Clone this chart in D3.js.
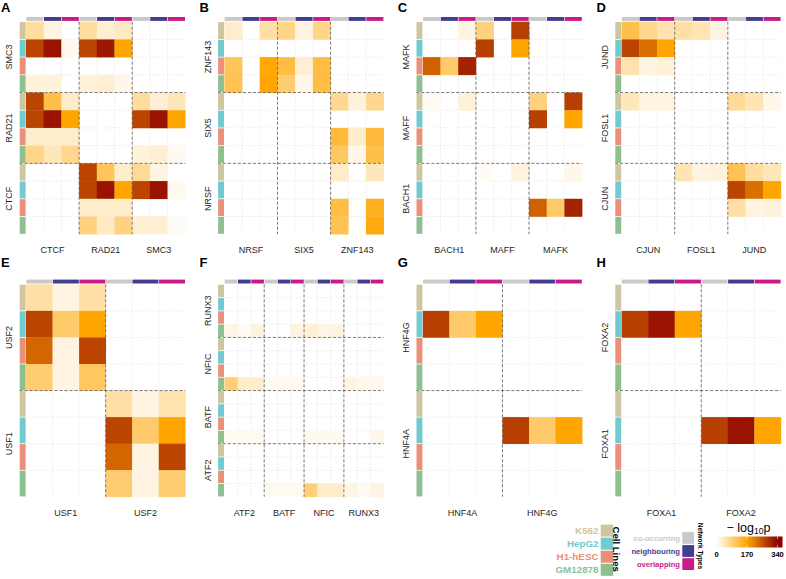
<!DOCTYPE html>
<html><head><meta charset="utf-8">
<script src="https://cdn.jsdelivr.net/npm/d3@7"></script>
<style>body{margin:0;background:#fff} svg{display:block;font-family:"Liberation Sans",Arial,Helvetica,sans-serif}</style>
</head><body>
<svg id="c" width="786" height="579"></svg>
<script>
// ---------- categories ----------
const cellLines = ["K562","HepG2","H1-hESC","GM12878"];
const cellLineColors = ["#cdc6a0","#70cacf","#e98f7a","#8dbf91"];
const networkTypes = ["co-occurring","neighbouring","overlapping"];
const networkColors = ["#c9c9c9","#433d90","#c81a88"];
const colorStops = [0,170,340];
const colorRange = ["#ffffff","#ffa500","#8b0000"];
const legendTicks = [0,170,340];

// ---------- panel data (rows: y-TF x cell line; cols: x-TF x network type) ----------
const xTFsA = ["CTCF","RAD21","SMC3"];
const yTFsA = ["SMC3","RAD21","CTCF"];
const valuesA = [
 [65,20,0, 65,30,40, 0,0,0],
 [270,320,10, 270,315,170, 0,0,0],
 [0,0,0, 0,0,0, 0,0,0],
 [25,25,0, 25,30,15, 0,0,0],
 [270,120,35, 0,0,0, 65,30,45],
 [270,320,170, 0,0,0, 270,320,170],
 [35,35,35, 0,0,0, 0,0,0],
 [80,45,75, 0,0,0, 25,30,10],
 [0,0,0, 270,110,35, 70,20,0],
 [0,0,0, 270,320,170, 270,320,10],
 [0,0,0, 35,35,35, 0,0,0],
 [0,0,0, 85,40,85, 30,30,5]
];
const xTFsB = ["NRSF","SIX5","ZNF143"];
const yTFsB = ["ZNF143","SIX5","NRSF"];
const valuesB = [
 [35,0,60, 80,20,80, 0,0,0],
 [0,0,0, 0,0,0, 0,0,0],
 [110,0,165, 125,30,125, 0,0,0],
 [115,0,170, 95,15,125, 0,0,0],
 [0,0,0, 0,0,0, 75,25,75],
 [0,0,0, 0,0,0, 0,0,0],
 [0,0,0, 0,0,0, 130,35,130],
 [0,0,0, 0,0,0, 105,15,120],
 [0,0,0, 0,0,0, 35,0,45],
 [0,0,0, 0,0,0, 0,0,0],
 [0,0,0, 0,0,0, 125,0,150],
 [0,0,0, 0,0,0, 115,0,160]
];
const xTFsC = ["BACH1","MAFF","MAFK"];
const yTFsC = ["MAFK","MAFF","BACH1"];
const valuesC = [
 [0,0,20, 85,0,275, 0,0,0],
 [0,0,0, 275,0,170, 0,0,0],
 [240,100,305, 0,0,0, 0,0,0],
 [0,0,0, 0,0,0, 0,0,0],
 [8,0,25, 0,0,0, 85,0,275],
 [0,0,0, 0,0,0, 275,0,170],
 [0,0,0, 0,0,0, 0,0,0],
 [0,0,0, 0,0,0, 0,0,0],
 [0,0,0, 6,0,22, 0,0,15],
 [0,0,0, 0,0,0, 0,0,0],
 [0,0,0, 0,0,0, 240,100,305],
 [0,0,0, 0,0,0, 0,0,0]
];
const xTFsD = ["CJUN","FOSL1","JUND"];
const yTFsD = ["JUND","FOSL1","CJUN"];
const valuesD = [
 [120,75,55, 60,50,20, 0,0,0],
 [270,225,170, 0,0,0, 0,0,0],
 [55,20,25, 0,0,0, 0,0,0],
 [0,0,0, 0,0,0, 0,0,0],
 [45,20,20, 0,0,0, 70,50,15],
 [0,0,0, 0,0,0, 0,0,0],
 [0,0,0, 0,0,0, 0,0,0],
 [0,0,0, 0,0,0, 0,0,0],
 [0,0,0, 50,20,25, 115,65,45],
 [0,0,0, 0,0,0, 270,225,170],
 [0,0,0, 0,0,0, 60,20,25],
 [0,0,0, 0,0,0, 0,0,0]
];
const xTFsE = ["USF1","USF2"];
const yTFsE = ["USF2","USF1"];
const valuesE = [
 [60,20,60, 0,0,0],
 [270,100,170, 0,0,0],
 [235,20,270, 0,0,0],
 [95,20,105, 0,0,0],
 [0,0,0, 60,20,55],
 [0,0,0, 270,100,170],
 [0,0,0, 235,20,270],
 [0,0,0, 95,20,95]
];
const xTFsF = ["ATF2","BATF","NFIC","RUNX3"];
const yTFsF = ["RUNX3","NFIC","BATF","ATF2"];
const valuesF = [
 [0,0,0, 0,0,0, 0,0,0, 0,0,0],
 [0,0,0, 0,0,0, 0,0,0, 0,0,0],
 [0,0,0, 0,0,0, 0,0,0, 0,0,0],
 [18,8,22, 0,0,20, 28,18,20, 0,0,0],
 [0,0,0, 0,0,0, 0,0,0, 0,0,0],
 [0,0,0, 0,0,0, 0,0,0, 0,0,0],
 [0,0,0, 0,0,0, 0,0,0, 0,0,0],
 [90,35,35, 10,8,10, 0,0,0, 20,12,12],
 [0,0,0, 0,0,0, 0,0,0, 0,0,0],
 [0,0,0, 0,0,0, 0,0,0, 0,0,0],
 [0,0,0, 0,0,0, 0,0,0, 0,0,0],
 [8,8,10, 0,0,0, 10,10,10, 0,0,15],
 [0,0,0, 0,0,0, 0,0,0, 0,0,0],
 [0,0,0, 0,0,0, 0,0,0, 0,0,0],
 [0,0,0, 0,0,0, 0,0,0, 0,0,0],
 [0,0,0, 10,8,10, 90,35,35, 18,8,20]
];
const xTFsG = ["HNF4A","HNF4G"];
const yTFsG = ["HNF4G","HNF4A"];
const valuesG = [
 [0,0,0, 0,0,0],
 [275,100,170, 0,0,0],
 [0,0,0, 0,0,0],
 [0,0,0, 0,0,0],
 [0,0,0, 0,0,0],
 [0,0,0, 275,100,170],
 [0,0,0, 0,0,0],
 [0,0,0, 0,0,0]
];
const xTFsH = ["FOXA1","FOXA2"];
const yTFsH = ["FOXA2","FOXA1"];
const valuesH = [
 [0,0,0, 0,0,0],
 [275,320,170, 0,0,0],
 [0,0,0, 0,0,0],
 [0,0,0, 0,0,0],
 [0,0,0, 0,0,0],
 [0,0,0, 275,320,170],
 [0,0,0, 0,0,0],
 [0,0,0, 0,0,0]
];

// ---------- drawing ----------
const svg = d3.select("#c");
const color = d3.scaleLinear().domain(colorStops).range(colorRange).clamp(true);
const panels = [
 {letter:"A", xt:xTFsA, yt:yTFsA, v:valuesA},
 {letter:"B", xt:xTFsB, yt:yTFsB, v:valuesB},
 {letter:"C", xt:xTFsC, yt:yTFsC, v:valuesC},
 {letter:"D", xt:xTFsD, yt:yTFsD, v:valuesD},
 {letter:"E", xt:xTFsE, yt:yTFsE, v:valuesE},
 {letter:"F", xt:xTFsF, yt:yTFsF, v:valuesF},
 {letter:"G", xt:xTFsG, yt:yTFsG, v:valuesG},
 {letter:"H", xt:xTFsH, yt:yTFsH, v:valuesH}
];
const colX = [26, 224.4, 422.8, 621.6];
const rowY = [21.7, 284.3];
const letterY = [11.8, 267.4];
const W = 159.3, H = 212.5;

panels.forEach((p, i) => {
  const x0 = colX[i % 4], y0 = rowY[Math.floor(i / 4)];
  const nx = p.xt.length * 3, ny = p.yt.length * 4;
  const xs = d3.scaleBand().domain(d3.range(nx)).range([x0, x0 + W]);
  const ys = d3.scaleBand().domain(d3.range(ny)).range([y0, y0 + H]);
  const bw = xs.bandwidth(), bh = ys.bandwidth();
  const g = svg.append("g");

  // light grid
  g.selectAll(".gv").data(d3.range(1, nx)).join("line")
    .attr("x1", d => xs(d)).attr("x2", d => xs(d)).attr("y1", y0).attr("y2", y0 + H)
    .attr("stroke", "#cfcfcf").attr("stroke-width", 0.6).attr("stroke-dasharray", "1,2");
  g.selectAll(".gh").data(d3.range(1, ny)).join("line")
    .attr("y1", d => ys(d)).attr("y2", d => ys(d)).attr("x1", x0).attr("x2", x0 + W)
    .attr("stroke", "#cfcfcf").attr("stroke-width", 0.6).attr("stroke-dasharray", "1,2");

  // tiles
  const cells = [];
  p.v.forEach((row, r) => row.forEach((val, c) => { if (val > 0) cells.push({r, c, val}); }));
  g.selectAll(".t").data(cells).join("rect")
    .attr("x", d => xs(d.c)).attr("y", d => ys(d.r))
    .attr("width", bw + 0.3).attr("height", bh + 0.3)
    .attr("fill", d => color(d.val));

  // block separators
  g.selectAll(".bv").data(d3.range(1, p.xt.length)).join("line")
    .attr("x1", d => xs(d * 3)).attr("x2", d => xs(d * 3)).attr("y1", y0).attr("y2", y0 + H)
    .attr("stroke", "#5a5a5a").attr("stroke-width", 0.8).attr("stroke-dasharray", "3,2");
  g.selectAll(".bh").data(d3.range(1, p.yt.length)).join("line")
    .attr("y1", d => ys(d * 4)).attr("y2", d => ys(d * 4)).attr("x1", x0 - 6.5).attr("x2", x0 + W)
    .attr("stroke", "#5a5a5a").attr("stroke-width", 0.8).attr("stroke-dasharray", "3,2");

  // network-type bar on top
  g.selectAll(".nb").data(d3.range(nx)).join("rect")
    .attr("x", d => xs(d) + 0.3).attr("width", bw - 0.6)
    .attr("y", y0 - 4.7).attr("height", 3.9)
    .attr("fill", d => networkColors[d % 3]);
  // cell-line strip on left
  g.selectAll(".cb").data(d3.range(ny)).join("rect")
    .attr("x", x0 - 6.3).attr("width", 5.9)
    .attr("y", d => ys(d) + 0.4).attr("height", bh - 0.8)
    .attr("fill", d => cellLineColors[d % 4]);

  // axis labels
  g.selectAll(".xl").data(p.xt).join("text")
    .attr("x", (d, k) => xs(k * 3) + bw * 1.5).attr("y", y0 + H + 19)
    .attr("text-anchor", "middle").attr("font-size", 9).attr("fill", "#262626")
    .text(d => d);
  g.selectAll(".yl").data(p.yt).join("text")
    .attr("transform", (d, k) => `translate(${x0 - 13.6},${ys(k * 4) + bh * 2}) rotate(-90)`)
    .attr("text-anchor", "middle").attr("font-size", 9).attr("fill", "#262626")
    .text(d => d);

  // panel letter
  g.append("text").attr("x", x0 - 25).attr("y", letterY[Math.floor(i / 4)])
    .attr("font-size", 13).attr("font-weight", "bold").attr("fill", "#000").text(p.letter);
});

// ---------- legends ----------
const lg = svg.append("g");
// Cell lines
const clY = d3.scaleBand().domain(cellLines).range([524.6, 575.8]).paddingInner(0.08);
lg.selectAll(".cls").data(cellLines).join("rect")
  .attr("x", 600.7).attr("width", 12.6).attr("y", d => clY(d)).attr("height", clY.bandwidth())
  .attr("fill", (d, k) => cellLineColors[k]);
lg.selectAll(".cll").data(cellLines).join("text")
  .attr("x", 598.5).attr("y", d => clY(d) + clY.bandwidth() / 2 + 3.6)
  .attr("text-anchor", "end").attr("font-size", 9.8).attr("font-weight", "bold")
  .attr("fill", (d, k) => cellLineColors[k]).text(d => d);
lg.append("text").attr("transform", "translate(613.4,526.5) rotate(90)")
  .attr("font-size", 9.6).attr("font-weight", "bold").attr("fill", "#000").text("Cell Lines");

// Network types
const ntY = d3.scaleBand().domain(networkTypes).range([532, 570]).paddingInner(0.1);
lg.selectAll(".nts").data(networkTypes).join("rect")
  .attr("x", 682.3).attr("width", 11.8).attr("y", d => ntY(d)).attr("height", ntY.bandwidth())
  .attr("fill", (d, k) => networkColors[k]);
lg.selectAll(".ntl").data(networkTypes).join("text")
  .attr("x", 680).attr("y", d => ntY(d) + ntY.bandwidth() / 2 + 2.8)
  .attr("text-anchor", "end").attr("font-size", 7.6).attr("font-weight", "bold")
  .attr("fill", (d, k) => networkColors[k]).text(d => d);
lg.append("text").attr("transform", "translate(698,522.7) rotate(90)")
  .attr("font-size", 6.6).attr("font-weight", "bold").attr("fill", "#000").text("Network Types");

// Colour bar
const defs = svg.append("defs");
const barX0 = 716.5, barX1 = 782.5;
const lx = d3.scaleLinear().domain([0, 340]).range([716.5, 777.5]);
const grad = defs.append("linearGradient").attr("id", "cgrad").attr("x1", "0%").attr("x2", "100%");
const maxV = lx.invert(barX1);
d3.range(0, 21).forEach(k => {
  const v = maxV * k / 20;
  grad.append("stop").attr("offset", (k * 5) + "%").attr("stop-color", color(v));
});
lg.append("rect").attr("x", barX0).attr("y", 536.5).attr("width", barX1 - barX0).attr("height", 11)
  .attr("fill", "url(#cgrad)");
lg.selectAll(".ctk").data(legendTicks).join("line")
  .attr("x1", d => lx(d)).attr("x2", d => lx(d)).attr("y1", 536.5).attr("y2", 539)
  .attr("stroke", "#fff").attr("stroke-width", 0.6);
lg.selectAll(".ctk2").data(legendTicks).join("line")
  .attr("x1", d => lx(d)).attr("x2", d => lx(d)).attr("y1", 545).attr("y2", 547.5)
  .attr("stroke", "#fff").attr("stroke-width", 0.6);
lg.selectAll(".ctl").data(legendTicks).join("text")
  .attr("x", d => lx(d)).attr("y", 556.5).attr("text-anchor", "middle")
  .attr("font-size", 7.6).attr("font-weight", "bold").attr("fill", "#000").text(d => d);
const title = lg.append("text").attr("x", 726.5).attr("y", 531.5).attr("font-size", 12.5).attr("fill", "#000");
title.append("tspan").text("\u2212 log");
title.append("tspan").attr("font-size", 8.5).attr("dy", 2.2).text("10");
title.append("tspan").attr("dy", -2.2).text("p");
</script>
</body></html>
